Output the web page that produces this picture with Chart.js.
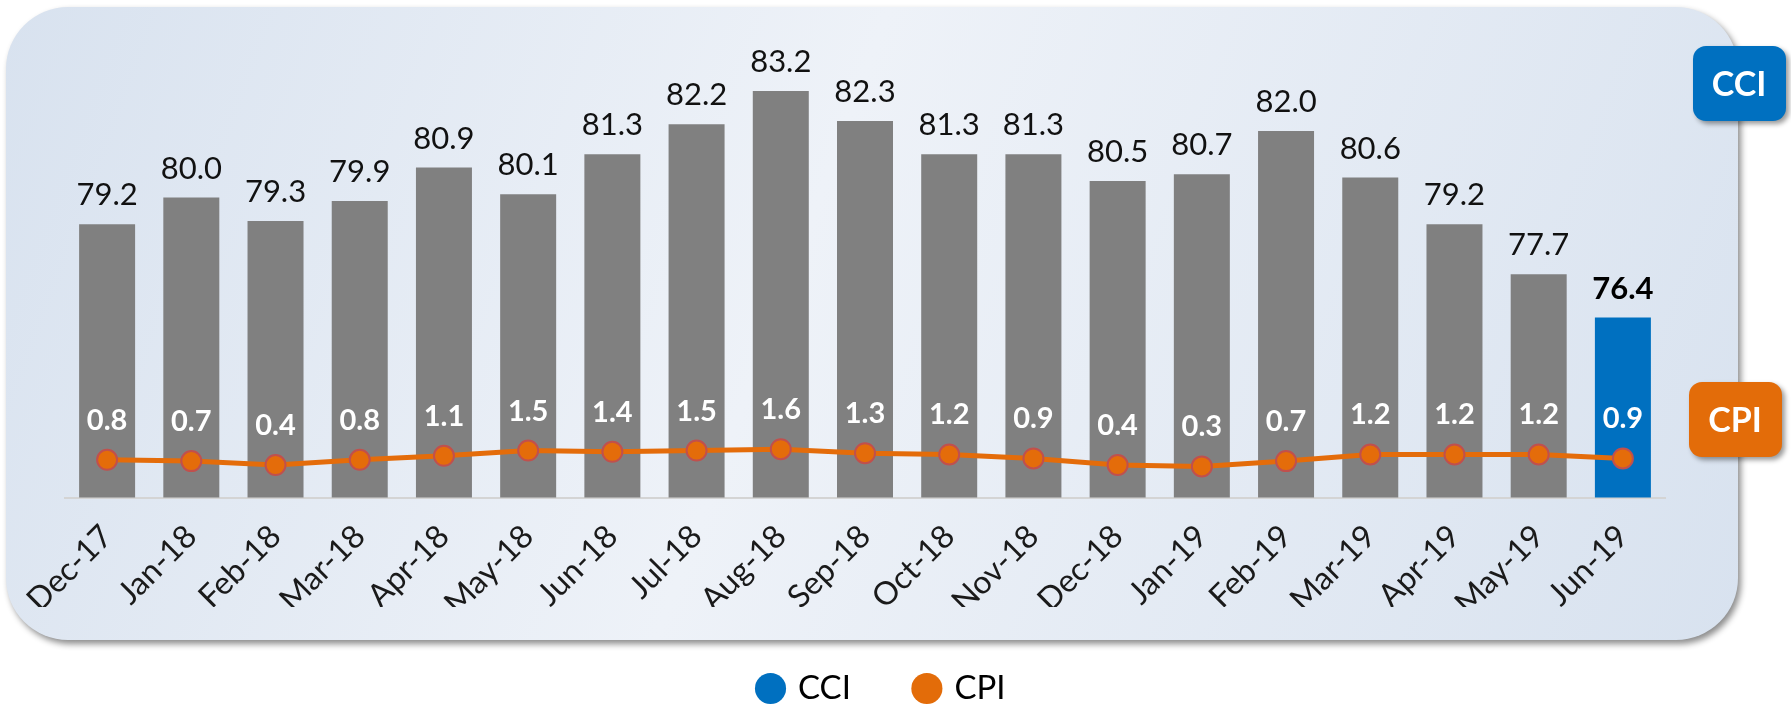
<!DOCTYPE html>
<html>
<head>
<meta charset="utf-8">
<script src="https://cdn.jsdelivr.net/npm/chart.js@4"></script>
<style>
  html, body { margin: 0; padding: 0; background: #fff; }
  #wrap { width: 1791px; height: 707px; }
</style>
</head>
<body>
<div id="wrap"><canvas id="myChart" width="1791" height="707"></canvas></div>
<script>
const categories = ["Dec-17", "Jan-18", "Feb-18", "Mar-18", "Apr-18", "May-18", "Jun-18", "Jul-18", "Aug-18", "Sep-18",
  "Oct-18", "Nov-18", "Dec-18", "Jan-19", "Feb-19", "Mar-19", "Apr-19", "May-19", "Jun-19"];
const cciValues = [79.2, 80.0, 79.3, 79.9, 80.9, 80.1, 81.3, 82.2, 83.2, 82.3, 81.3, 81.3, 80.5, 80.7, 82.0, 80.6, 79.2, 77.7, 76.4];
const cpiValues = [0.8, 0.7, 0.4, 0.8, 1.1, 1.5, 1.4, 1.5, 1.6, 1.3, 1.2, 0.9, 0.4, 0.3, 0.7, 1.2, 1.2, 1.2, 0.9];

const GRAY = "#808080";
const BLUE = "#0070C0";
const ORANGE = "#E46C0A";
const FONT = "Lato, 'Open Sans', sans-serif";

function roundRect(ctx, x, y, w, h, r) {
  ctx.beginPath();
  ctx.moveTo(x + r, y);
  ctx.arcTo(x + w, y, x + w, y + h, r);
  ctx.arcTo(x + w, y + h, x, y + h, r);
  ctx.arcTo(x, y + h, x, y, r);
  ctx.arcTo(x, y, x + w, y, r);
  ctx.closePath();
}

// background panel behind the plot
const panelPlugin = {
  id: "panel",
  beforeDraw(chart) {
    const ctx = chart.ctx;
    ctx.save();
    ctx.fillStyle = "#fff";
    ctx.fillRect(0, 0, chart.width, chart.height);
    ctx.shadowColor = "rgba(0,0,0,0.45)";
    ctx.shadowBlur = 6;
    ctx.shadowOffsetX = 3;
    ctx.shadowOffsetY = 4;
    const grad = ctx.createLinearGradient(6, 0, 1738, 640);
    grad.addColorStop(0, "#d8e2ef");
    grad.addColorStop(0.45, "#eef2f8");
    grad.addColorStop(1, "#d8e2ef");
    ctx.fillStyle = grad;
    roundRect(ctx, 6, 7, 1732, 633, 62);
    ctx.fill();
    ctx.restore();
  },
  afterDraw(chart) {
    const ctx = chart.ctx;
    const tags = [
      { text: "CCI", color: BLUE, x: 1693, y: 46 },
      { text: "CPI", color: "#E36C09", x: 1689, y: 382 },
    ];
    tags.forEach((t) => {
      ctx.save();
      ctx.shadowColor = "rgba(0,0,0,0.4)";
      ctx.shadowBlur = 5;
      ctx.shadowOffsetX = 3;
      ctx.shadowOffsetY = 3;
      ctx.fillStyle = t.color;
      roundRect(ctx, t.x, t.y, 93, 75, 13);
      ctx.fill();
      ctx.restore();
      ctx.save();
      ctx.fillStyle = "#fff";
      ctx.font = "bold 34px " + FONT;
      ctx.textAlign = "center";
      ctx.textBaseline = "middle";
      ctx.fillText(t.text, t.x + 46, t.y + 39);
      ctx.restore();
    });
  },
};

// value labels on bars and points
const valueLabels = {
  id: "valueLabels",
  afterDatasetsDraw(chart) {
    const ctx = chart.ctx;
    const bars = chart.getDatasetMeta(0).data;
    const points = chart.getDatasetMeta(1).data;
    ctx.save();
    ctx.textAlign = "center";
    ctx.textBaseline = "alphabetic";
    bars.forEach((bar, i) => {
      const last = i === bars.length - 1;
      ctx.font = (last ? "bold " : "") + "31px " + FONT;
      ctx.fillStyle = last ? "#000" : "#111";
      ctx.fillText(cciValues[i].toFixed(1), bar.x, bar.y - 19);
    });
    ctx.font = "bold 29px " + FONT;
    ctx.fillStyle = "#fff";
    points.forEach((pt, i) => {
      ctx.fillText(cpiValues[i].toFixed(1), pt.x, pt.y - 30);
    });
    ctx.restore();
  },
};

const barColors = cciValues.map((v, i) => (i === cciValues.length - 1 ? BLUE : GRAY));

const ctx = document.getElementById("myChart").getContext("2d");
const myChart = new Chart(ctx, {
  data: {
    labels: categories,
    datasets: [
      {
        type: "bar",
        label: "CCI",
        data: cciValues,
        backgroundColor: barColors,
        barPercentage: 0.665,
        categoryPercentage: 1,
        yAxisID: "y",
        order: 2,
      },
      {
        type: "line",
        label: "CPI",
        data: cpiValues,
        borderColor: ORANGE,
        borderWidth: 5,
        pointRadius: 10,
        pointBackgroundColor: ORANGE,
        pointBorderColor: "#C0504D",
        pointBorderWidth: 2,
        tension: 0,
        yAxisID: "y1",
        order: 1,
      },
    ],
  },
  options: {
    responsive: false,
    animation: false,
    layout: { padding: { left: 65, right: 91, top: 31, bottom: -8 } },
    plugins: {
      tooltip: { enabled: false },
      legend: {
        position: "bottom",
        labels: {
          usePointStyle: true,
          boxWidth: 22,
          boxHeight: 22,
          padding: 65,
          color: "#333",
          font: { family: FONT, size: 33 },
          generateLabels: () => [
            { text: "CCI", fillStyle: BLUE, strokeStyle: BLUE, lineWidth: 0, pointStyle: "circle", hidden: false, datasetIndex: 0 },
            { text: "CPI", fillStyle: "#E36C09", strokeStyle: "#E36C09", lineWidth: 0, pointStyle: "circle", hidden: false, datasetIndex: 1 },
          ],
        },
      },
    },
    scales: {
      x: {
        offset: true,
        grid: { display: false },
        border: { display: true, color: "#d4d4d4", width: 2 },
        ticks: {
          autoSkip: false,
          maxRotation: 45,
          minRotation: 45,
          padding: 12,
          color: "#1a1a1a",
          font: { family: FONT, size: 32 },
        },
        afterFit(scale) {
          scale.height = 109.5;
        },
      },
      y: { display: false, min: 71, max: 85 },
      y1: {
        position: "right",
        min: -2.05,
        max: 33.2,
        grid: { display: false },
        border: { display: false },
        ticks: { display: false },
        afterFit(scale) {
          scale.width = 35;
        },
      },
    },
  },
  plugins: [panelPlugin, valueLabels],
});
</script>
</body>
</html>
